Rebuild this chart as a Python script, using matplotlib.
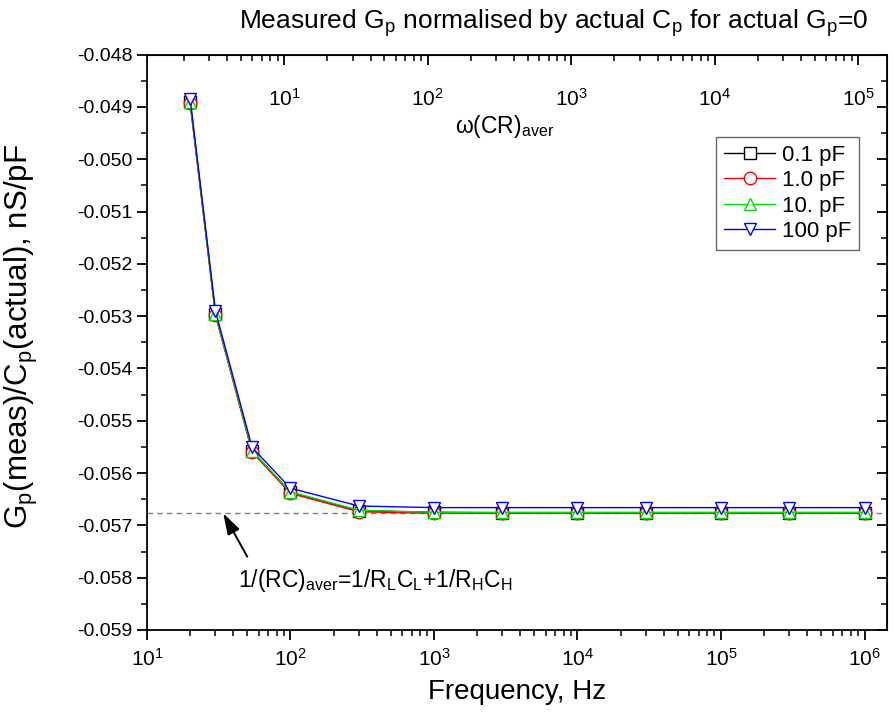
import numpy as np
import matplotlib.pyplot as plt
from matplotlib.ticker import MultipleLocator, LogLocator, FixedLocator, NullFormatter

plt.rcParams['font.family'] = 'Liberation Sans'
plt.rcParams['mathtext.fontset'] = 'custom'
plt.rcParams['mathtext.rm'] = 'Liberation Sans'
plt.rcParams['mathtext.it'] = 'Liberation Sans'
plt.rcParams['mathtext.default'] = 'regular'
plt.rcParams['axes.unicode_minus'] = False

freq = [20, 30, 54, 100, 300, 1e3, 3e3, 1e4, 3e4, 1e5, 3e5, 1e6]
g_01 = [-0.04891, -0.05296, -0.05558, -0.05637, -0.05672, -0.05675, -0.05676, -0.05676, -0.05676, -0.05676, -0.05676, -0.05676]
g_1 = [-0.04893, -0.05298, -0.05560, -0.05639, -0.05674, -0.05677, -0.05677, -0.05677, -0.05677, -0.05677, -0.05677, -0.05677]
g_10 = [-0.04890, -0.05295, -0.05557, -0.05636, -0.05671, -0.05675, -0.05675, -0.05675, -0.05675, -0.05675, -0.05675, -0.05675]
g_100 = [-0.04885, -0.05290, -0.05551, -0.05629, -0.05663, -0.05666, -0.05666, -0.05666, -0.05666, -0.05666, -0.05666, -0.05666]
labels = ['0.1 pF', '1.0 pF', '10. pF', '100 pF']
inv_rc = 56.77   # 1/(RC)aver in 1/s  (= 0.05677 nS/pF)
asym = -0.05677

fig = plt.figure(figsize=(8.93, 7.12), dpi=100)
ax = fig.add_axes([0.1646, 0.1152, 0.8287, 0.808])

styles = [('black', 's'), ('red', 'o'), ('#00e000', '^'), ('blue', 'v')]
for y, lab, (c, m) in zip([g_01, g_1, g_10, g_100], labels, styles):
    ax.plot(freq, y, color=c, marker=m, markersize=9, markerfacecolor='white',
            markeredgecolor=c, lw=1, label=lab)

ax.axhline(asym, color='gray', ls='--', lw=1, dashes=(4, 3), zorder=0)

ax.set_xscale('log')
ax.set_xlim(10, 1.435e6)
ax.set_ylim(-0.059, -0.048)
ax.yaxis.set_major_locator(MultipleLocator(0.001))
ax.yaxis.set_minor_locator(MultipleLocator(0.0005))
ax.yaxis.set_major_formatter(plt.FormatStrFormatter('%.3f'))
ax.xaxis.set_major_locator(FixedLocator([10, 1e2, 1e3, 1e4, 1e5, 1e6]))
ax.xaxis.set_minor_locator(LogLocator(base=10, subs=np.arange(2, 10), numticks=20))
ax.xaxis.set_minor_formatter(NullFormatter())
ax.tick_params(axis='both', which='major', direction='out', length=7, width=1.3, labelsize=14)
ax.tick_params(axis='both', which='minor', direction='out', length=4, width=1.1)
ax.tick_params(axis='x', which='major', labelsize=15, pad=6)
for s in ax.spines.values():
    s.set_linewidth(1.3)

# right axis, inward ticks
ry = ax.secondary_yaxis('right')
ry.yaxis.set_major_locator(MultipleLocator(0.001))
ry.yaxis.set_minor_locator(MultipleLocator(0.0005))
ry.tick_params(which='major', direction='in', length=7, width=1.3, labelright=False)
ry.tick_params(which='minor', direction='in', length=4, width=1.1)

# top axis: omega*(CR)aver
def to_w(f):
    return 2 * np.pi * np.asarray(f) / inv_rc

def to_f(w):
    return np.asarray(w) * inv_rc / (2 * np.pi)

tx = ax.secondary_xaxis('top', functions=(to_w, to_f))
tx.xaxis.set_major_locator(FixedLocator([10, 1e2, 1e3, 1e4, 1e5]))
tx.xaxis.set_minor_locator(LogLocator(base=10, subs=np.arange(2, 10), numticks=20))
tx.xaxis.set_minor_formatter(NullFormatter())
tx.tick_params(which='major', direction='in', length=7, width=1.3, labelsize=15, pad=-40)
tx.tick_params(which='minor', direction='in', length=4, width=1.1)
ax.text(0.483, 0.875, r'ω(CR)$_{aver}$', transform=ax.transAxes, fontsize=16.5,
        ha='center', va='center')

ax.set_xlabel('Frequency, Hz', fontsize=20)
ax.xaxis.set_label_coords(0.5, -0.085)
ax.set_ylabel(r'G$_p$(meas)/C$_p$(actual), nS/pF', fontsize=22.5)
ax.yaxis.set_label_coords(-0.145, 0.51)
fig.text(0.62, 0.968, r'Measured G$_p$ normalised by actual C$_p$ for actual G$_p$=0',
         fontsize=19, ha='center', va='center')

# formula and arrow pointing at the asymptote
ax.text(43, -0.05805, r'1/(RC)$_{aver}$=1/R$_L$C$_L$+1/R$_H$C$_H$', fontsize=16.5,
        va='center', ha='left')
ax.annotate('', xy=(34, asym), xytext=(50, -0.0576),
            arrowprops=dict(arrowstyle='-|>,head_length=0.8,head_width=0.25', color='black',
                            lw=1.4, shrinkA=0, shrinkB=0, mutation_scale=16))

leg = ax.legend(loc='upper right', bbox_to_anchor=(0.962, 0.857), borderaxespad=0,
                fontsize=16, frameon=True, fancybox=False, edgecolor='#444444',
                handlelength=2.3, borderpad=0.35, labelspacing=0.2, handletextpad=0.3)
leg.get_frame().set_linewidth(1.0)

fig.savefig('out.png', dpi=100)
